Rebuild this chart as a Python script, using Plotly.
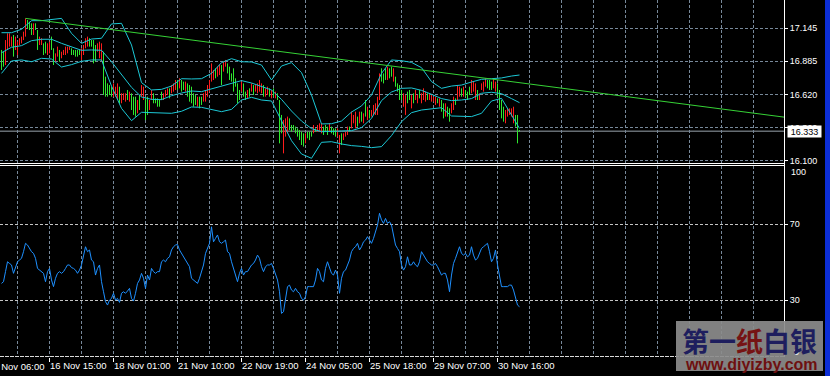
import plotly.graph_objects as go

# ---------------- data ----------------
bars = list(range(260))

high = [16.974, 16.960, 17.052, 17.105, 17.105, 17.079, 17.092, 17.079, 17.039, 17.066,
        17.079, 17.118, 17.223, 17.210, 17.197, 17.184, 17.184, 17.184, 17.131, 17.079,
        17.066, 17.026, 17.039, 17.026, 17.039, 17.079, 16.987, 16.947, 17.000, 16.974,
        16.960, 16.974, 17.000, 17.000, 17.000, 16.987, 16.974, 16.974, 16.974, 16.974,
        16.987, 17.013, 17.066, 17.079, 17.066, 17.052, 17.052, 17.013, 17.026, 17.039,
        17.026, 16.960, 16.763, 16.710, 16.697, 16.684, 16.710, 16.684, 16.710, 16.684,
        16.632, 16.632, 16.632, 16.658, 16.645, 16.632, 16.605, 16.605, 16.579, 16.618,
        16.697, 16.684, 16.592, 16.605, 16.579, 16.658, 16.632, 16.592, 16.592, 16.579,
        16.645, 16.632, 16.658, 16.671, 16.671, 16.697, 16.710, 16.737, 16.737, 16.750,
        16.737, 16.724, 16.724, 16.710, 16.697, 16.684, 16.632, 16.618, 16.605, 16.605,
        16.605, 16.632, 16.658, 16.697, 16.737, 16.868, 16.816, 16.829, 16.842, 16.855,
        16.855, 16.881, 16.895, 16.868, 16.842, 16.789, 16.829, 16.750, 16.710, 16.658,
        16.724, 16.710, 16.645, 16.658, 16.671, 16.710, 16.697, 16.697, 16.710, 16.737,
        16.710, 16.697, 16.671, 16.684, 16.671, 16.658, 16.671, 16.645, 16.632, 16.579,
        16.461, 16.421, 16.434, 16.448, 16.434, 16.382, 16.382, 16.369, 16.355, 16.342,
        16.329, 16.316, 16.316, 16.329, 16.329, 16.329, 16.382, 16.355, 16.382, 16.395,
        16.395, 16.369, 16.382, 16.369, 16.395, 16.369, 16.355, 16.355, 16.355, 16.303,
        16.316, 16.316, 16.329, 16.369, 16.369, 16.487, 16.461, 16.487, 16.448, 16.487,
        16.487, 16.474, 16.579, 16.526, 16.500, 16.500, 16.540, 16.553, 16.605, 16.789,
        16.829, 16.789, 16.829, 16.842, 16.829, 16.842, 16.829, 16.763, 16.710, 16.697,
        16.658, 16.632, 16.618, 16.645, 16.658, 16.618, 16.632, 16.658, 16.618, 16.658,
        16.632, 16.671, 16.645, 16.632, 16.632, 16.618, 16.605, 16.605, 16.592, 16.592,
        16.579, 16.553, 16.553, 16.526, 16.513, 16.553, 16.605, 16.592, 16.697, 16.684,
        16.671, 16.684, 16.658, 16.645, 16.684, 16.737, 16.724, 16.710, 16.658, 16.632,
        16.710, 16.724, 16.750, 16.737, 16.737, 16.724, 16.750, 16.724, 16.710, 16.658,
        16.579, 16.526, 16.500, 16.513, 16.513, 16.513, 16.526, 16.461, 16.461, 16.342]

low = [16.816, 16.842, 16.855, 16.974, 17.000, 17.000, 16.921, 16.974, 16.934, 17.013,
       17.026, 17.052, 17.079, 17.144, 17.131, 17.092, 17.092, 17.131, 16.974, 17.013,
       17.013, 16.934, 16.947, 16.934, 16.947, 16.974, 16.855, 16.881, 16.921, 16.881,
       16.908, 16.934, 16.934, 16.947, 16.974, 16.934, 16.934, 16.921, 16.921, 16.934,
       16.895, 16.934, 16.987, 17.000, 17.000, 17.000, 16.868, 16.881, 16.960, 16.908,
       16.881, 16.618, 16.605, 16.605, 16.618, 16.605, 16.605, 16.605, 16.579, 16.553,
       16.553, 16.579, 16.566, 16.579, 16.566, 16.500, 16.461, 16.448, 16.474, 16.500,
       16.605, 16.579, 16.421, 16.461, 16.500, 16.579, 16.553, 16.553, 16.526, 16.526,
       16.579, 16.579, 16.605, 16.618, 16.592, 16.632, 16.645, 16.658, 16.658, 16.671,
       16.645, 16.658, 16.645, 16.605, 16.566, 16.553, 16.526, 16.540, 16.526, 16.513,
       16.540, 16.566, 16.566, 16.605, 16.645, 16.724, 16.737, 16.750, 16.763, 16.776,
       16.697, 16.803, 16.842, 16.789, 16.737, 16.724, 16.645, 16.684, 16.553, 16.579,
       16.645, 16.605, 16.579, 16.592, 16.605, 16.645, 16.618, 16.645, 16.632, 16.645,
       16.632, 16.605, 16.605, 16.618, 16.605, 16.592, 16.605, 16.592, 16.579, 16.237,
       16.316, 16.158, 16.290, 16.316, 16.342, 16.329, 16.342, 16.316, 16.290, 16.263,
       16.224, 16.211, 16.237, 16.277, 16.263, 16.290, 16.316, 16.329, 16.329, 16.329,
       16.316, 16.303, 16.329, 16.303, 16.329, 16.316, 16.303, 16.290, 16.290, 16.158,
       16.224, 16.263, 16.290, 16.303, 16.329, 16.355, 16.395, 16.355, 16.369, 16.395,
       16.408, 16.395, 16.448, 16.421, 16.434, 16.448, 16.461, 16.461, 16.461, 16.579,
       16.724, 16.710, 16.737, 16.737, 16.750, 16.763, 16.724, 16.684, 16.645, 16.579,
       16.579, 16.526, 16.461, 16.553, 16.579, 16.513, 16.553, 16.579, 16.553, 16.592,
       16.553, 16.579, 16.566, 16.579, 16.579, 16.566, 16.566, 16.540, 16.553, 16.526,
       16.487, 16.434, 16.448, 16.448, 16.408, 16.474, 16.500, 16.540, 16.579, 16.605,
       16.605, 16.605, 16.605, 16.579, 16.618, 16.632, 16.645, 16.579, 16.579, 16.579,
       16.658, 16.645, 16.684, 16.671, 16.658, 16.658, 16.671, 16.645, 16.605, 16.500,
       16.434, 16.408, 16.395, 16.448, 16.461, 16.448, 16.395, 16.369, 16.237, 16.329]

open_ = [16.969, 16.955, 16.860, 16.979, 17.005, 17.005, 17.087, 16.979, 16.939, 17.018,
         17.031, 17.057, 17.084, 17.205, 17.192, 17.179, 17.097, 17.179, 17.126, 17.018,
         17.018, 17.021, 17.034, 16.939, 16.952, 17.074, 16.982, 16.886, 16.926, 16.969,
         16.913, 16.939, 16.939, 16.952, 16.979, 16.982, 16.969, 16.969, 16.969, 16.969,
         16.900, 16.939, 16.992, 17.005, 17.061, 17.047, 17.047, 17.008, 16.965, 16.913,
         16.886, 16.955, 16.758, 16.705, 16.692, 16.679, 16.610, 16.610, 16.584, 16.679,
         16.558, 16.584, 16.571, 16.653, 16.571, 16.627, 16.600, 16.600, 16.479, 16.613,
         16.610, 16.584, 16.587, 16.600, 16.505, 16.584, 16.627, 16.587, 16.587, 16.574,
         16.640, 16.584, 16.610, 16.623, 16.666, 16.637, 16.650, 16.663, 16.732, 16.676,
         16.732, 16.719, 16.650, 16.705, 16.692, 16.679, 16.627, 16.613, 16.531, 16.600,
         16.600, 16.571, 16.571, 16.610, 16.650, 16.729, 16.742, 16.824, 16.768, 16.781,
         16.850, 16.808, 16.847, 16.863, 16.837, 16.784, 16.824, 16.745, 16.705, 16.653,
         16.650, 16.705, 16.640, 16.597, 16.666, 16.650, 16.692, 16.650, 16.637, 16.650,
         16.637, 16.692, 16.610, 16.623, 16.666, 16.597, 16.666, 16.597, 16.627, 16.574,
         16.456, 16.163, 16.295, 16.321, 16.429, 16.377, 16.377, 16.364, 16.350, 16.337,
         16.324, 16.311, 16.242, 16.324, 16.324, 16.324, 16.321, 16.350, 16.334, 16.334,
         16.321, 16.364, 16.377, 16.364, 16.334, 16.364, 16.350, 16.350, 16.295, 16.163,
         16.311, 16.268, 16.295, 16.308, 16.364, 16.360, 16.400, 16.360, 16.443, 16.400,
         16.482, 16.400, 16.574, 16.426, 16.495, 16.453, 16.466, 16.466, 16.466, 16.584,
         16.824, 16.784, 16.824, 16.742, 16.824, 16.837, 16.729, 16.758, 16.705, 16.692,
         16.653, 16.531, 16.466, 16.640, 16.653, 16.518, 16.627, 16.584, 16.558, 16.653,
         16.558, 16.584, 16.571, 16.627, 16.584, 16.571, 16.571, 16.545, 16.587, 16.531,
         16.574, 16.548, 16.453, 16.521, 16.508, 16.479, 16.505, 16.587, 16.584, 16.610,
         16.666, 16.610, 16.653, 16.640, 16.679, 16.637, 16.650, 16.584, 16.653, 16.584,
         16.663, 16.650, 16.689, 16.732, 16.732, 16.719, 16.676, 16.650, 16.705, 16.653,
         16.574, 16.521, 16.400, 16.453, 16.466, 16.453, 16.400, 16.456, 16.456, 16.340]

close = [16.821, 16.847, 17.047, 17.100, 17.100, 17.074, 16.926, 17.074, 17.034, 17.061,
         17.074, 17.113, 17.218, 17.149, 17.136, 17.097, 17.179, 17.136, 16.979, 17.074,
         17.061, 16.939, 16.952, 17.021, 17.034, 16.979, 16.860, 16.942, 16.995, 16.886,
         16.955, 16.969, 16.995, 16.995, 16.995, 16.939, 16.939, 16.926, 16.926, 16.939,
         16.982, 17.008, 17.061, 17.074, 17.005, 17.005, 16.873, 16.886, 17.021, 17.034,
         17.021, 16.623, 16.610, 16.610, 16.623, 16.610, 16.705, 16.679, 16.705, 16.558,
         16.627, 16.627, 16.627, 16.584, 16.640, 16.505, 16.466, 16.453, 16.574, 16.505,
         16.692, 16.679, 16.426, 16.466, 16.574, 16.653, 16.558, 16.558, 16.531, 16.531,
         16.584, 16.627, 16.653, 16.666, 16.597, 16.692, 16.705, 16.732, 16.663, 16.745,
         16.650, 16.663, 16.719, 16.610, 16.571, 16.558, 16.531, 16.545, 16.600, 16.518,
         16.545, 16.627, 16.653, 16.692, 16.732, 16.863, 16.811, 16.755, 16.837, 16.850,
         16.702, 16.876, 16.890, 16.794, 16.742, 16.729, 16.650, 16.689, 16.558, 16.584,
         16.719, 16.610, 16.584, 16.653, 16.610, 16.705, 16.623, 16.692, 16.705, 16.732,
         16.705, 16.610, 16.666, 16.679, 16.610, 16.653, 16.610, 16.640, 16.584, 16.242,
         16.321, 16.416, 16.429, 16.443, 16.347, 16.334, 16.347, 16.321, 16.295, 16.268,
         16.229, 16.216, 16.311, 16.282, 16.268, 16.295, 16.377, 16.334, 16.377, 16.390,
         16.390, 16.308, 16.334, 16.308, 16.390, 16.321, 16.308, 16.295, 16.350, 16.298,
         16.229, 16.311, 16.324, 16.364, 16.334, 16.482, 16.456, 16.482, 16.374, 16.482,
         16.413, 16.469, 16.453, 16.521, 16.439, 16.495, 16.535, 16.548, 16.600, 16.784,
         16.729, 16.715, 16.742, 16.837, 16.755, 16.768, 16.824, 16.689, 16.650, 16.584,
         16.584, 16.627, 16.613, 16.558, 16.584, 16.613, 16.558, 16.653, 16.613, 16.597,
         16.627, 16.666, 16.640, 16.584, 16.627, 16.613, 16.600, 16.600, 16.558, 16.587,
         16.492, 16.439, 16.548, 16.453, 16.413, 16.548, 16.600, 16.545, 16.692, 16.679,
         16.610, 16.679, 16.610, 16.584, 16.623, 16.732, 16.719, 16.705, 16.584, 16.627,
         16.705, 16.719, 16.745, 16.676, 16.663, 16.663, 16.745, 16.719, 16.610, 16.505,
         16.439, 16.413, 16.495, 16.508, 16.508, 16.508, 16.521, 16.374, 16.242, 16.333]

# Bollinger bands (read at every 5th bar)
band_x = list(range(0, 256, 5)) + [259]
bb_upper = [17.110, 17.110, 17.137, 17.205, 17.205, 17.215, 17.223, 17.105, 17.026, 17.060,
            17.066, 17.179, 17.184, 17.013, 16.716, 16.658, 16.663, 16.689, 16.747, 16.745,
            16.747, 16.789, 16.874, 16.905, 16.881, 16.879, 16.855, 16.737, 16.847, 16.874,
            16.795, 16.618, 16.390, 16.392, 16.413, 16.484, 16.532, 16.618, 16.789, 16.895,
            16.889, 16.876, 16.834, 16.724, 16.671, 16.689, 16.697, 16.721, 16.742, 16.747,
            16.753, 16.768, 16.776]
bb_middle = [16.952, 16.995, 17.008, 17.047, 17.058, 17.058, 17.026, 16.997, 16.971, 16.974,
             16.971, 16.881, 16.781, 16.679, 16.603, 16.584, 16.582, 16.613, 16.634, 16.650,
             16.645, 16.666, 16.692, 16.710, 16.732, 16.713, 16.687, 16.658, 16.584, 16.492,
             16.413, 16.353, 16.329, 16.334, 16.334, 16.337, 16.361, 16.434, 16.574, 16.642,
             16.671, 16.674, 16.655, 16.624, 16.590, 16.574, 16.579, 16.590, 16.632, 16.640,
             16.629, 16.590, 16.558]
bb_lower = [16.789, 16.887, 16.895, 16.881, 16.908, 16.902, 16.839, 16.858, 16.884, 16.895,
            16.895, 16.689, 16.513, 16.416, 16.482, 16.479, 16.476, 16.474, 16.490, 16.524,
            16.521, 16.505, 16.487, 16.505, 16.579, 16.600, 16.579, 16.571, 16.416, 16.258,
            16.153, 16.119, 16.245, 16.250, 16.232, 16.219, 16.213, 16.203, 16.211, 16.298,
            16.408, 16.479, 16.500, 16.508, 16.518, 16.453, 16.448, 16.448, 16.474, 16.571,
            16.592, 16.466, 16.355]

# Trend line (two anchor points, bar index / price)
trend_x = [12, 391.25]
trend_y = [17.223, 16.444]

# RSI
rsi = [38.9, 39.8, 45.1, 50.3, 49.4, 48.6, 44.2, 46.8, 50.3, 51.2,
       52.1, 55.6, 60.0, 59.1, 57.3, 55.6, 54.7, 52.1, 46.8, 45.9,
       45.1, 44.2, 39.8, 45.1, 46.8, 40.7, 37.2, 41.6, 44.2, 45.1,
       44.2, 45.1, 46.8, 48.6, 48.6, 47.2, 46.8, 45.9, 44.2, 45.9,
       48.6, 53.8, 58.2, 55.6, 56.5, 51.2, 50.3, 43.3, 46.8, 48.6,
       39.8, 34.5, 29.3, 27.5, 30.1, 31.0, 33.7, 30.1, 31.0, 28.9,
       33.7, 34.5, 33.7, 34.9, 36.3, 31.0, 29.6, 33.7, 38.9, 40.7,
       44.2, 41.6, 36.3, 43.3, 40.7, 46.8, 45.1, 44.2, 45.1, 45.1,
       50.3, 51.2, 50.3, 52.1, 52.9, 56.5, 58.2, 59.1, 59.4, 56.5,
       54.7, 52.9, 51.2, 49.4, 47.7, 41.6, 40.7, 39.8, 38.9, 41.6,
       45.1, 48.6, 54.7, 57.3, 60.0, 68.7, 60.8, 62.6, 64.4, 60.8,
       60.0, 60.8, 61.7, 55.6, 54.7, 50.3, 46.8, 43.3, 39.8, 44.2,
       46.8, 43.3, 45.1, 45.1, 46.8, 48.6, 49.4, 51.2, 53.8, 52.1,
       47.7, 45.1, 47.7, 48.6, 48.6, 49.4, 46.8, 43.3, 40.7, 34.5,
       23.1, 24.0, 31.0, 37.2, 38.0, 35.4, 34.5, 36.3, 34.5, 33.7,
       31.0, 30.1, 31.9, 37.2, 37.2, 37.2, 37.2, 40.7, 46.8, 45.1,
       40.7, 39.8, 46.8, 50.3, 47.7, 44.2, 43.3, 45.9, 43.3, 33.7,
       41.6, 45.1, 45.9, 48.6, 51.2, 55.6, 57.3, 58.2, 60.0, 56.5,
       58.2, 60.8, 61.7, 63.5, 61.7, 60.0, 62.6, 66.1, 69.6, 75.8,
       72.3, 70.5, 73.1, 70.5, 71.4, 69.6, 64.4, 59.1, 57.3, 55.6,
       48.6, 45.9, 47.7, 52.9, 48.6, 48.6, 50.3, 48.6, 47.7, 50.3,
       55.6, 53.8, 52.1, 50.3, 49.4, 48.6, 48.6, 49.4, 47.7, 45.1,
       43.3, 44.2, 44.2, 40.7, 34.5, 43.3, 49.4, 52.1, 55.6, 58.2,
       54.7, 53.8, 54.7, 52.9, 53.8, 58.2, 53.8, 51.2, 52.1, 54.7,
       57.3, 58.2, 59.1, 60.0, 55.6, 50.3, 52.1, 56.5, 48.6, 43.3,
       37.2, 37.2, 37.2, 37.2, 38.0, 38.0, 35.4, 31.0, 27.5, 26.6]

time_ticks = [24, 56, 88, 120, 152, 184, 216, 248]
time_labels = ["16 Nov 15:00", "18 Nov 01:00", "21 Nov 10:00", "22 Nov 19:00",
               "24 Nov 05:00", "25 Nov 18:00", "29 Nov 07:00", "30 Nov 16:00"]
first_tick = -8
first_label = "15 Nov 06:00"

price_ticks = [16.100, 16.360, 16.620, 16.885, 17.145]
rsi_ticks = [30, 70]
rsi_edge_labels = [100, 0]

# ---------------- styling ----------------
W, H = 830, 376
ML, MR, MT, MB = 0, 46, 0, 19
PW, PH = W - ML - MR, H - MT - MB   # 784 x 357
GRID = "#778899"
DASH = "3px,2px"
FONT = "Liberation Sans"
UP = "#ff1c1c"      # Chinese convention: red = rising bar
DOWN = "#2ee82e"    # green = falling bar
BAND = "#1cc8d6"
XR = [-0.75, 391.25]   # 2 px per bar, bar centres on half pixels

def py(px):  # pixel row -> paper y
    return (PH - px) / PH

def pxx(px):  # pixel col -> paper x
    return px / PW

def x_paper(bar):  # bar index -> paper x
    return (bar - XR[0]) / (XR[1] - XR[0])

fig = go.Figure()

# price bars drawn as high-low lines, coloured by direction
for is_up, colour in ((True, UP), (False, DOWN)):
    xs, ys = [], []
    for b, o, h, l, c in zip(bars, open_, high, low, close):
        if (c > o) == is_up:
            xs += [b, b, None]
            ys += [l, h, None]
    fig.add_trace(go.Scatter(x=xs, y=ys, mode="lines", line=dict(color=colour, width=1),
                             hoverinfo="skip", xaxis="x", yaxis="y", connectgaps=False))

for band in (bb_upper, bb_middle, bb_lower):
    fig.add_trace(go.Scatter(x=band_x, y=band, mode="lines",
                             line=dict(color=BAND, width=1), hoverinfo="skip",
                             xaxis="x", yaxis="y"))

fig.add_trace(go.Scatter(x=trend_x, y=trend_y, mode="lines",
                         line=dict(color="#36d236", width=1), hoverinfo="skip",
                         xaxis="x", yaxis="y"))

fig.add_trace(go.Scatter(x=bars, y=rsi, mode="lines",
                         line=dict(color="#1e90ff", width=1), hoverinfo="skip",
                         xaxis="x2", yaxis="y2"))

last_price = close[-1]

shapes = [
    dict(type="line", xref="paper", yref="y", x0=0, x1=1, y0=last_price, y1=last_price,
         line=dict(color="#9aa4ae", width=1), layer="below"),
    dict(type="line", xref="paper", yref="paper", x0=0, x1=1, y0=py(163.5), y1=py(163.5),
         line=dict(color="white", width=1)),
    dict(type="line", xref="paper", yref="paper", x0=0, x1=1, y0=py(165.5), y1=py(165.5),
         line=dict(color="white", width=1)),
    dict(type="line", xref="paper", yref="paper", x0=0, x1=1, y0=py(356.5), y1=py(356.5),
         line=dict(color="#d8d8d8", width=1, dash="4px,1px")),
    dict(type="line", xref="paper", yref="paper", x0=pxx(784.5), x1=pxx(784.5),
         y0=py(357), y1=1, line=dict(color="white", width=1)),
    dict(type="rect", xref="paper", yref="paper", x0=pxx(825), x1=pxx(831),
         y0=py(H), y1=1, line=dict(width=0), fillcolor="#0c2ed6"),
    dict(type="rect", xref="paper", yref="paper", x0=pxx(676), x1=pxx(823),
         y0=py(371), y1=py(321), line=dict(width=0), fillcolor="rgba(140,140,140,0.92)"),
]

annotations = [
    dict(text=f"{last_price:.3f}", xref="paper", yref="y", x=pxx(786.5), y=last_price,
         xanchor="left", yanchor="middle", showarrow=False, bgcolor="white",
         font=dict(color="black", size=9, family=FONT), width=33, height=11, borderpad=0),
    dict(text=str(rsi_edge_labels[0]), xref="paper", yref="paper", x=pxx(788.5), y=py(172.5),
         xanchor="left", yanchor="middle", showarrow=False,
         font=dict(color="white", size=9, family=FONT)),
    dict(text=str(rsi_edge_labels[1]), xref="paper", yref="paper", x=pxx(791.5), y=py(351.5),
         xanchor="left", yanchor="middle", showarrow=False,
         font=dict(color="white", size=9, family=FONT)),
    dict(text=first_label, xref="paper", yref="paper", x=x_paper(first_tick), y=py(366.5),
         xanchor="left", yanchor="middle", showarrow=False,
         font=dict(color="white", size=9.5, family=FONT)),
    dict(text='<b><span style="color:#1e1e5e">第一</span><span style="color:#761414">纸</span>'
              '<span style="color:#1e1e5e">白银</span></b>',
         xref="paper", yref="paper", x=pxx(749), y=py(340), xanchor="center", yanchor="middle",
         showarrow=False, font=dict(size=27, family="Noto Sans CJK SC", color="#1e1e5e")),
    dict(text="<b>www.diyizby.com</b>", xref="paper", yref="paper", x=pxx(751), y=py(364),
         xanchor="center", yanchor="middle", showarrow=False,
         font=dict(size=16, family=FONT, color="#6e1010")),
]

fig.update_layout(
    width=W, height=H,
    margin=dict(l=ML, r=MR, t=MT, b=MB, autoexpand=False),
    paper_bgcolor="black", plot_bgcolor="black",
    showlegend=False,
    shapes=shapes, annotations=annotations,
    xaxis=dict(domain=[0, 1], anchor="y", range=XR, showticklabels=False, ticks="",
               tick0=8, dtick=16, showgrid=True, gridcolor=GRID, griddash=DASH, gridwidth=1,
               zeroline=False, showline=False, fixedrange=True, automargin=False),
    xaxis2=dict(domain=[0, 1], anchor="y2", range=XR, tickmode="array",
                tickvals=time_ticks, ticktext=time_labels, ticks="outside", ticklen=4,
                tickcolor="white", tickwidth=1, ticklabelposition="outside right",
                tickangle=0,
                tickfont=dict(color="white", size=9.5, family=FONT),
                showgrid=True, gridcolor=GRID, griddash=DASH, gridwidth=1,
                minor=dict(tick0=8, dtick=16, showgrid=True, gridcolor=GRID, griddash=DASH,
                           gridwidth=1, ticks=""),
                zeroline=False, showline=False, fixedrange=True, automargin=False),
    yaxis=dict(domain=[py(164), 1], anchor="x", side="right", range=[16.074, 17.368],
               tickmode="array", tickvals=price_ticks,
               ticktext=[f"{v:.3f}" for v in price_ticks],
               ticks="outside", ticklen=3, tickcolor="white",
               tickfont=dict(color="white", size=9, family=FONT),
               showgrid=True, gridcolor=GRID, griddash=DASH, gridwidth=1,
               zeroline=False, showline=False, fixedrange=True, automargin=False),
    yaxis2=dict(domain=[0, py(166)], anchor="x2", side="right", range=[0.16, 100.7],
                tickmode="array", tickvals=rsi_ticks, ticktext=[str(v) for v in rsi_ticks],
                ticks="outside", ticklen=3, tickcolor="white",
                tickfont=dict(color="white", size=9, family=FONT),
                showgrid=True, gridcolor="#c4c4c4", griddash=DASH, gridwidth=1,
                zeroline=False, showline=False, fixedrange=True, automargin=False),
)

fig.write_html("out.html",
               config={"displayModeBar": False, "staticPlot": True},
               post_script="document.body.style.margin='0';"
                           "document.body.style.overflow='hidden';"
                           "document.body.style.background='black';")
